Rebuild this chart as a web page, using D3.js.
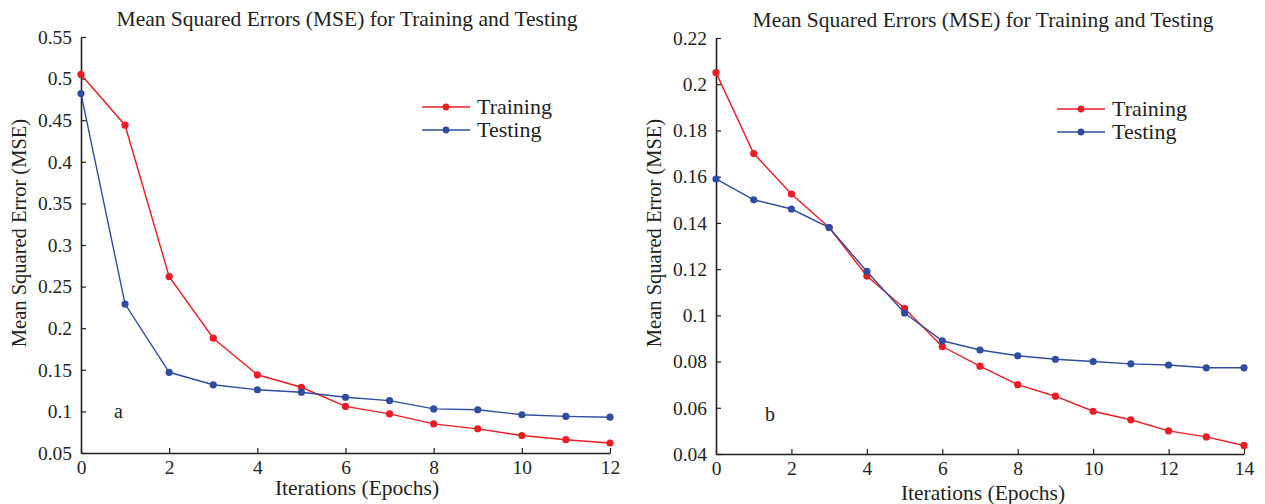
<!DOCTYPE html>
<html><head><meta charset="utf-8">
<script src="https://cdn.jsdelivr.net/npm/d3@7"></script>
<style>body{margin:0;background:#fff}svg{display:block}text{font-family:"Liberation Serif","DejaVu Serif",serif;fill:#231f20}</style>
</head><body><svg id="c" width="1265" height="504"></svg>
<script>
const titleText = "Mean Squared Errors (MSE) for Training and Testing";
const xLabel = "Iterations (Epochs)";
const yLabel = "Mean Squared Error (MSE)";
const seriesNames = ["Training", "Testing"];
const colors = ["#ec1c24", "#2e4da0"];

const epochsA = [0,1,2,3,4,5,6,7,8,9,10,11,12];
const trainA = [0.505,0.444,0.262,0.188,0.144,0.129,0.106,0.097,0.085,0.079,0.071,0.066,0.062];
const testA  = [0.482,0.229,0.147,0.132,0.126,0.123,0.117,0.113,0.103,0.102,0.096,0.094,0.093];
const xTicksA = [0,2,4,6,8,10,12];
const yTicksA = [0.05,0.1,0.15,0.2,0.25,0.3,0.35,0.4,0.45,0.5,0.55];
const yTickLabelsA = ["0.05","0.1","0.15","0.2","0.25","0.3","0.35","0.4","0.45","0.5","0.55"];

const epochsB = [0,1,2,3,4,5,6,7,8,9,10,11,12,13,14];
const trainB = [0.205,0.170,0.1525,0.138,0.117,0.103,0.0865,0.078,0.070,0.065,0.0585,0.0548,0.050,0.0474,0.0437];
const testB  = [0.159,0.150,0.146,0.138,0.119,0.101,0.089,0.085,0.0825,0.081,0.080,0.079,0.0785,0.0773,0.0773];
const xTicksB = [0,2,4,6,8,10,12,14];
const yTicksB = [0.04,0.06,0.08,0.1,0.12,0.14,0.16,0.18,0.2,0.22];
const yTickLabelsB = ["0.04","0.06","0.08","0.1","0.12","0.14","0.16","0.18","0.2","0.22"];

const svg = d3.select("#c");

function panel(o){
  const g = svg.append("g");
  const x = d3.scaleLinear().domain(o.xDomain).range([o.x0, o.x1]);
  const y = d3.scaleLinear().domain(o.yDomain).range([o.y0, o.y1]);
  const xa = g.append("g").attr("transform",`translate(0,${o.y0})`)
    .call(d3.axisBottom(x).tickValues(o.xTicks).tickSizeInner(-5).tickSizeOuter(0).tickPadding(7));
  const ya = g.append("g").attr("transform",`translate(${o.x0},0)`)
    .call(d3.axisLeft(y).tickValues(o.yTicks).tickFormat((d,i)=>o.yLabels[i]).tickSizeInner(-5).tickSizeOuter(0).tickPadding(9));
  [xa,ya].forEach(a=>{
    a.select(".domain").attr("stroke","#231f20").attr("stroke-width",1.6);
    a.selectAll(".tick line").attr("stroke","#231f20").attr("stroke-width",1.2);
    a.selectAll(".tick text").style("font-family",'"Liberation Serif",serif').style("font-size","19.5px").attr("fill","#231f20");
  });
  xa.selectAll(".tick text").attr("dy","0.72em");
  o.series.forEach((s,i)=>{
    const line = d3.line().x((d,j)=>x(o.xs[j])).y(d=>y(d));
    g.append("path").datum(s).attr("fill","none").attr("stroke",colors[i]).attr("stroke-width",1.4).attr("d",line);
  });
  o.series.forEach((s,i)=>{
    g.selectAll(null).data(s).enter().append("circle")
      .attr("cx",(d,j)=>x(o.xs[j])).attr("cy",d=>y(d)).attr("r",3.6).attr("fill",colors[i]);
  });
  g.append("text").attr("x",o.titleX).attr("y",o.titleY).attr("text-anchor","middle").style("font-size","21.5px").text(titleText);
  g.append("text").attr("x",o.xlabX).attr("y",o.xlabY).attr("text-anchor","middle").style("font-size","21.5px").text(xLabel);
  g.append("text").attr("transform",`translate(${o.ylabX},${o.ylabY}) rotate(-90)`).attr("text-anchor","middle").style("font-size","20.5px").text(yLabel);
  seriesNames.forEach((n,i)=>{
    const ly = o.legY + i*23;
    g.append("line").attr("x1",o.legX).attr("x2",o.legX+48).attr("y1",ly).attr("y2",ly).attr("stroke",colors[i]).attr("stroke-width",1.4);
    g.append("circle").attr("cx",o.legX+24).attr("cy",ly).attr("r",3.4).attr("fill",colors[i]);
    g.append("text").attr("x",o.legX+55).attr("y",ly+7).style("font-size","22px").text(n);
  });
  g.append("text").attr("x",o.tagX).attr("y",o.tagY).style("font-size","20px").text(o.tag);
}

panel({xDomain:[0,12], yDomain:[0.05,0.55], x0:81, x1:610, y0:453, y1:37,
  xTicks:xTicksA, yTicks:yTicksA, yLabels:yTickLabelsA, xs:epochsA, series:[trainA,testA],
  titleX:347, titleY:26, xlabX:357, xlabY:495, ylabX:26, ylabY:233, legX:422, legY:107, tag:"a", tagX:114, tagY:418});
panel({xDomain:[0,14], yDomain:[0.04,0.22], x0:716, x1:1244, y0:454, y1:38,
  xTicks:xTicksB, yTicks:yTicksB, yLabels:yTickLabelsB, xs:epochsB, series:[trainB,testB],
  titleX:983, titleY:27, xlabX:983, xlabY:500, ylabX:661, ylabY:233, legX:1057, legY:109, tag:"b", tagX:765, tagY:421});
</script></body></html>
